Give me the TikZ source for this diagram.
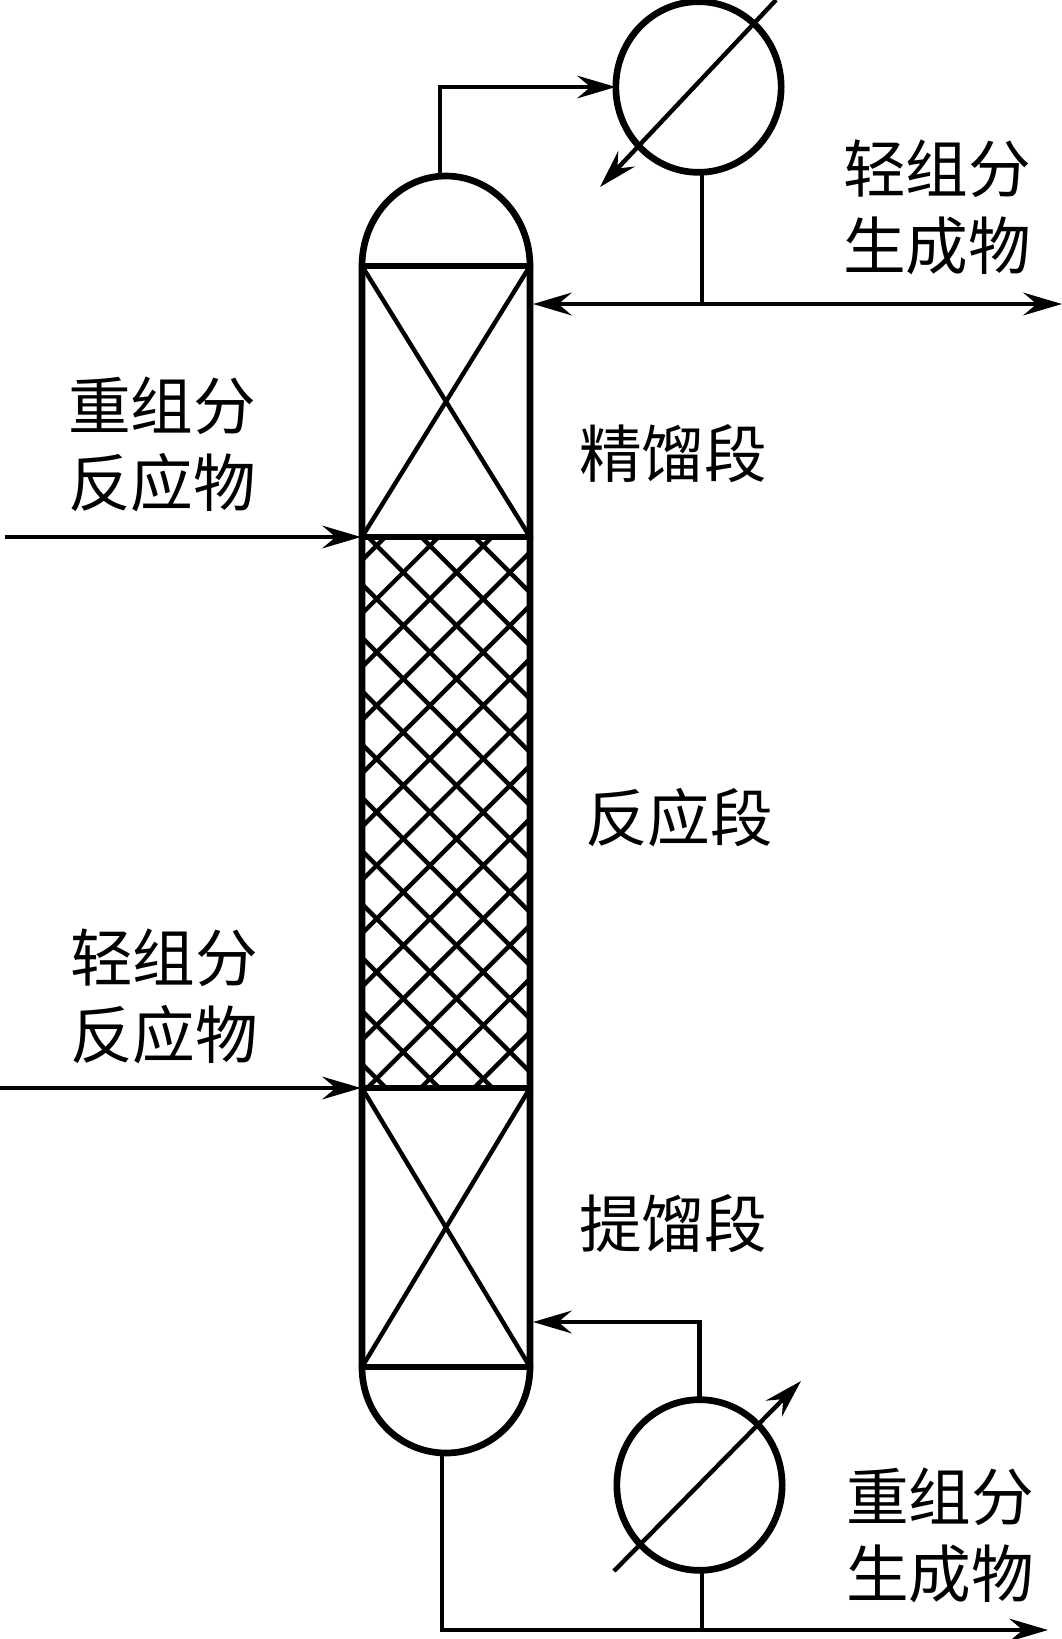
\documentclass[tikz,border=0pt]{standalone}
\usepackage{fontspec}
\newfontfamily\cjk{Noto Sans CJK SC}[Scale=1]
\usetikzlibrary{arrows.meta,shapes.geometric}
\tikzset{
  wall/.style={line width=5pt,line cap=round,line join=round},
  thin line/.style={line width=3.3pt},
  flow/.style={line width=3.3pt,-{Stealth[length=29pt,width=17pt,inset=10pt]}},
  exchanger/.style={draw,ellipse,line width=5pt,minimum width=124pt,minimum height=128pt,inner sep=0pt,outer sep=0pt},
  label text/.style={font=\cjk\fontsize{47pt}{47pt}\selectfont,inner sep=0pt,text=black}
}
\begin{document}
\begin{tikzpicture}[x=0.75pt,y=-0.75pt]
\useasboundingbox (0,0) rectangle (1062,1639);
% column reference points
\coordinate (tl) at (362,266); \coordinate (tr) at (530,266);
\coordinate (ml) at (362,537); \coordinate (mr) at (530,537);
\coordinate (nl) at (362,1088); \coordinate (nr) at (530,1088);
\coordinate (bl) at (362,1367); \coordinate (br) at (530,1367);
\coordinate (domeT) at (440,176); \coordinate (domeB) at (442,1453);
% packing
\begin{scope}
\clip (ml) rectangle (nr);
\foreach \k in {-10,...,3}{
  \pgfmathsetmacro{\c}{-169+53.3*\k}
  \draw[thin line] ({\c+500},500) -- ({\c+1100},1100);
}
\foreach \k in {-2,...,13}{
  \pgfmathsetmacro{\c}{975.6+53.3*\k}
  \draw[thin line] ({\c-500},500) -- ({\c-1100},1100);
}
\end{scope}
% crossed sections
\draw[thin line] (tl) -- (mr) (tr) -- (ml);
\draw[thin line] (nl) -- (br) (nr) -- (bl);
% shell
\draw[wall] (tl) .. controls (362,216) and (400,176) .. (446,176)
            .. controls (492,176) and (530,216) .. (tr) -- (mr) -- (nr) -- (br)
            .. controls (530,1416) and (492,1453) .. (446,1453)
            .. controls (400,1453) and (362,1416) .. (bl) -- (nl) -- (ml) -- cycle;
\draw[wall] (tl) -- (tr) (ml) -- (mr) (nl) -- (nr) (bl) -- (br);
% exchangers
\node[exchanger] (cond) at (698.5,87) {};
\node[exchanger] (reb) at (699.5,1485) {};
% condenser piping
\draw[flow] (domeT) |- (cond.west);
\coordinate (cA) at (776,0); \coordinate (cB) at (600,187);
\draw[flow] (cA) -- (cB);
\coordinate (topJ) at (702,304); \coordinate (topL) at (533,304); \coordinate (topR) at (1062,304);
\draw[thin line] (702,172) -- (topJ);
\draw[flow] (topJ) -- (topL);
\draw[flow] (topJ) -- (topR);
% feeds
\coordinate (f1) at (5,537); \coordinate (f1e) at (361,537);
\coordinate (f2) at (0,1088); \coordinate (f2e) at (361,1088);
\draw[flow] (f1) -- (f1e);
\draw[flow] (f2) -- (f2e);
% reboiler piping
\coordinate (rL) at (533,1322);
\draw[flow] (reb.north) |- (rL);
\coordinate (rA) at (614,1571); \coordinate (rB) at (801,1381);
\draw[flow] (rA) -- (rB);
\coordinate (bC) at (442,1630); \coordinate (bJ) at (702,1630); \coordinate (bR) at (1048,1630);
\draw[flow] (domeB) -- (bC) -- (bR);
\draw[thin line] (702,1571) -- (bJ);
% labels
\node[label text] (l1) at (937,169) {轻组分};
\node[label text] (l2) at (937,246) {生成物};
\node[label text] (l3) at (162,406) {重组分};
\node[label text] (l4) at (162,483) {反应物};
\node[label text] (l5) at (673,454) {精馏段};
\node[label text] (l6) at (679,818) {反应段};
\node[label text] (l7) at (164,958) {轻组分};
\node[label text] (l8) at (164,1035) {反应物};
\node[label text] (l9) at (673,1224) {提馏段};
\node[label text] (l10) at (940,1497) {重组分};
\node[label text] (l11) at (940,1574) {生成物};
\end{tikzpicture}
\end{document}
